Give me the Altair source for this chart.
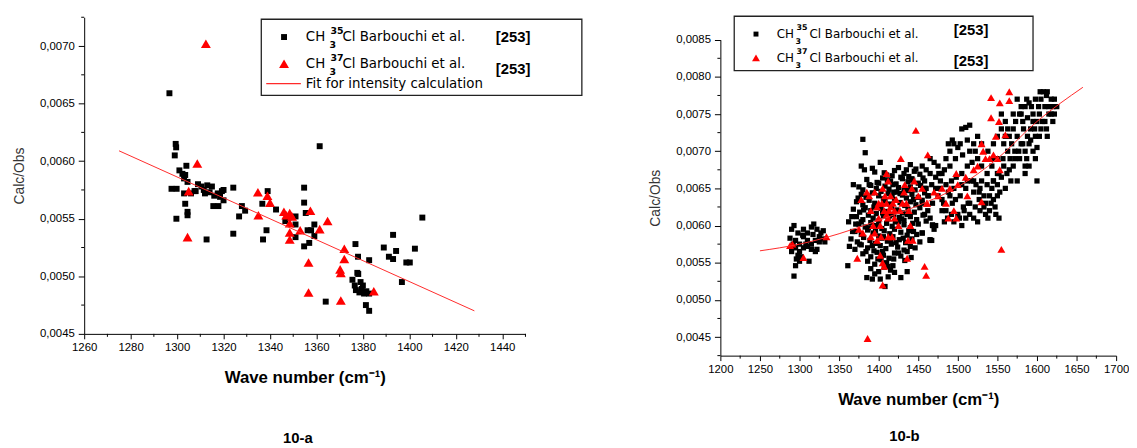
import altair as alt
import pandas as pd

# ---------------- Panel 10-a ----------------
A_CH3_35 = [
    (1296.7, 0.00659), (1299.4, 0.00615), (1299.6, 0.00612), (1299.0, 0.00605), (1297.6, 0.00576),
    (1299.8, 0.00576), (1299.7, 0.00550), (1301.0, 0.00592), (1302.3, 0.00589), (1303.0, 0.00585),
    (1304.0, 0.00596), (1303.5, 0.00588), (1304.5, 0.00582), (1303.0, 0.00572), (1303.5, 0.00563),
    (1304.5, 0.00556), (1304.5, 0.00553), (1306.0, 0.00572), (1307.5, 0.00574), (1309.0, 0.00580),
    (1310.5, 0.00578), (1311.5, 0.00575), (1313.0, 0.00579), (1314.0, 0.00573), (1315.0, 0.00578),
    (1316.0, 0.00570), (1317.5, 0.00572), (1318.5, 0.00569), (1320.0, 0.00575), (1308.0, 0.00574),
    (1312.0, 0.00572), (1312.7, 0.00532), (1315.6, 0.00561), (1317.8, 0.00561), (1319.3, 0.00574),
    (1320.0, 0.00566), (1324.2, 0.00577), (1324.2, 0.00537), (1326.7, 0.00552), (1327.9, 0.00561),
    (1329.3, 0.00557), (1337.0, 0.00532), (1336.7, 0.00563), (1338.5, 0.00540), (1339.0, 0.00574),
    (1342.6, 0.00558), (1346.6, 0.00548), (1348.0, 0.00551), (1351.0, 0.00545), (1351.0, 0.00552),
    (1351.0, 0.00534), (1354.7, 0.00577), (1354.7, 0.00564), (1355.4, 0.00555), (1354.7, 0.00526),
    (1356.2, 0.00540), (1356.9, 0.00529), (1357.7, 0.00540), (1359.1, 0.00545), (1359.1, 0.00535),
    (1361.4, 0.00613), (1364.0, 0.00478), (1376.8, 0.00528), (1377.9, 0.00517), (1377.6, 0.00503),
    (1375.5, 0.00497), (1376.5, 0.00492), (1377.0, 0.00488), (1378.0, 0.00502), (1378.5, 0.00486),
    (1379.5, 0.00489), (1380.0, 0.00492), (1380.5, 0.00485), (1381.5, 0.00487), (1379.0, 0.00495),
    (1381.3, 0.00475), (1382.7, 0.00470), (1382.7, 0.00485), (1382.7, 0.00514), (1389.0, 0.00525),
    (1391.2, 0.00517), (1393.0, 0.00515), (1393.0, 0.00536), (1394.3, 0.00522), (1396.8, 0.00495),
    (1398.7, 0.00512), (1400.2, 0.00512), (1402.4, 0.00524), (1405.6, 0.00551),
]
A_CH3_37 = [
    (1312.4, 0.00702), (1308.7, 0.00598), (1305.0, 0.00574), (1304.5, 0.00534), (1334.8, 0.00573),
    (1335.0, 0.00553), (1338.9, 0.00570), (1340.0, 0.00564), (1346.0, 0.00556), (1347.0, 0.00553),
    (1348.5, 0.00555), (1349.5, 0.00552), (1348.5, 0.00546), (1348.5, 0.00538), (1348.5, 0.00532),
    (1353.0, 0.00540), (1357.4, 0.00557), (1356.6, 0.00512), (1356.6, 0.00486), (1361.4, 0.00541),
    (1364.8, 0.00548), (1372.0, 0.00524), (1372.0, 0.00515), (1370.2, 0.00506), (1370.5, 0.00503),
    (1370.5, 0.00479), (1384.7, 0.00487),
]
A_FIT_X = [1275, 1428]
A_FIT_Y = [0.00609, 0.00470]
A_X_MAJOR = [1260, 1280, 1300, 1320, 1340, 1360, 1380, 1400, 1420, 1440]
A_X_MINOR = [1270, 1290, 1310, 1330, 1350, 1370, 1390, 1410, 1430, 1450]
A_Y_MAJOR = [0.0045, 0.0050, 0.0055, 0.0060, 0.0065, 0.0070]
A_Y_MINOR = [0.00475, 0.00525, 0.00575, 0.00625, 0.00675, 0.00725]

# ---------------- Panel 10-b ----------------
B_CH3_35 = [
    # low-wavenumber group
    (1293, .00532), (1295, .00546), (1300, .00552), (1290, .00595), (1293, .00600), (1298, .00590),
    (1305, .00595), (1310, .00590), (1315, .00598), (1318, .00602), (1322, .00595), (1327, .00590),
    (1330, .00593), (1295, .00580), (1300, .00575), (1305, .00585), (1310, .00580), (1315, .00575),
    (1320, .00580), (1325, .00585), (1290, .00565), (1295, .00570), (1300, .00565), (1305, .00570),
    (1310, .00572), (1315, .00568), (1320, .00565), (1325, .00578), (1329, .00582), (1312, .00552),
    (1322, .00568), (1298, .00560), (1292, .00575), (1302, .00558), (1308, .00575), (1288, .00583),
    (1317, .00588), (1332, .00578), (1296, .00555), (1304, .00587),
    # 1360-1470 group
    (1378, .00680), (1402, .00685), (1425, .00678), (1440, .00682), (1447, .00676),
    (1395, .00672), (1410, .00668), (1420, .00674), (1432, .00670), (1438, .00666), (1445, .00673), (1452, .00669),
    (1385, .00662), (1398, .00658), (1405, .00664), (1415, .00660), (1422, .00656), (1430, .00663),
    (1437, .00659), (1443, .00661), (1450, .00657), (1456, .00664),
    (1375, .00652), (1380, .00648), (1390, .00654), (1397, .00650), (1403, .00646), (1408, .00653),
    (1413, .00649), (1418, .00655), (1425, .00651), (1432, .00647), (1440, .00652), (1446, .00648),
    (1453, .00654), (1460, .00650),
    (1378, .00642), (1384, .00638), (1392, .00644), (1400, .00640), (1406, .00636), (1412, .00643),
    (1417, .00639), (1423, .00645), (1430, .00641), (1435, .00637), (1442, .00642), (1450, .00638), (1458, .00644),
    (1372, .00632), (1380, .00628), (1388, .00634), (1395, .00630), (1402, .00626), (1408, .00633),
    (1414, .00629), (1420, .00635), (1427, .00631), (1433, .00627), (1440, .00632), (1447, .00628), (1455, .00634),
    (1368, .00622), (1376, .00618), (1383, .00624), (1390, .00620), (1397, .00616), (1403, .00623),
    (1410, .00619), (1416, .00625), (1423, .00621), (1430, .00617), (1437, .00622), (1445, .00618),
    (1452, .00624), (1462, .00620),
    (1372, .00612), (1380, .00608), (1387, .00614), (1393, .00610), (1400, .00606), (1406, .00613),
    (1412, .00609), (1419, .00615), (1426, .00611), (1432, .00607), (1440, .00612), (1448, .00608), (1456, .00614),
    (1375, .00602), (1383, .00598), (1390, .00604), (1397, .00600), (1404, .00596), (1410, .00603),
    (1417, .00599), (1425, .00605), (1432, .00601), (1440, .00597), (1450, .00602), (1468, .00600),
    (1370, .00592), (1378, .00588), (1386, .00594), (1393, .00590), (1400, .00586), (1407, .00593),
    (1414, .00589), (1420, .00595), (1428, .00591), (1436, .00587), (1444, .00592), (1455, .00590),
    (1365, .00582), (1373, .00578), (1381, .00584), (1389, .00580), (1396, .00576), (1404, .00583),
    (1411, .00579), (1418, .00585), (1426, .00581), (1434, .00577), (1442, .00582), (1465, .00580),
    (1363, .00572), (1370, .00568), (1378, .00574), (1386, .00570), (1394, .00566), (1402, .00573),
    (1409, .00569), (1416, .00575), (1424, .00571), (1432, .00567), (1440, .00572), (1446, .00570),
    (1380, .00562), (1390, .00558), (1398, .00564), (1406, .00560), (1413, .00556), (1420, .00563),
    (1428, .00559), (1436, .00565),
    (1361, .00546), (1386, .00552), (1395, .00548), (1403, .00554), (1410, .00550), (1418, .00546),
    (1390, .00542), (1400, .00538), (1407, .00544), (1415, .00540), (1436, .00538),
    (1385, .00530), (1392, .00528), (1412, .00531), (1428, .00530), (1408, .00518),
    (1380, .00716), (1383, .00698), (1368, .00655), (1362, .00605), (1455, .00590),
    (1465, .00581), (1468, .00601),
    (1382, .00675), (1392, .00677), (1407, .00671), (1417, .00667), (1428, .00665), (1435, .00675),
    (1442, .00663), (1388, .00655), (1400, .00657), (1411, .00661), (1419, .00645), (1427, .00643),
    (1437, .00647), (1444, .00635), (1374, .00637), (1381, .00621), (1394, .00625), (1405, .00617),
    (1414, .00613), (1421, .00605), (1429, .00609), (1436, .00615), (1443, .00603), (1378, .00605),
    (1387, .00597), (1396, .00593), (1406, .00585), (1415, .00581), (1422, .00577), (1431, .00583),
    (1438, .00593), (1367, .00592), (1376, .00575), (1384, .00565), (1392, .00573), (1399, .00555),
    (1405, .00565), (1412, .00545), (1419, .00555), (1425, .00563), (1433, .00553), (1441, .00557),
    (1395, .00535), (1402, .00528), (1420, .00537), (1366, .00612), (1371, .00602), (1448, .00588),
    (1452, .00578), (1460, .00606), (1458, .00615), (1463, .00640),
    # 1450-1560 band
    (1455, .00680), (1460, .00675), (1465, .00690), (1470, .00685), (1475, .00680), (1480, .00670),
    (1485, .00690), (1490, .00700), (1495, .00710), (1500, .00705), (1505, .00730), (1510, .00732),
    (1515, .00735), (1520, .00710), (1525, .00720), (1488, .00710), (1493, .00715), (1503, .00710),
    (1512, .00715),
    (1458, .00660), (1465, .00670), (1472, .00665), (1478, .00660), (1485, .00655), (1492, .00660),
    (1498, .00665), (1505, .00670), (1512, .00680), (1518, .00685), (1525, .00690), (1530, .00680),
    (1537, .00670), (1543, .00680), (1550, .00690),
    (1462, .00640), (1468, .00630), (1475, .00640), (1482, .00630), (1490, .00640), (1497, .00635),
    (1503, .00640), (1510, .00650), (1517, .00660), (1523, .00655), (1530, .00660), (1537, .00655),
    (1545, .00660), (1552, .00670),
    (1465, .00610), (1472, .00600), (1480, .00620), (1487, .00610), (1495, .00605), (1502, .00610),
    (1508, .00620), (1515, .00630), (1522, .00625), (1528, .00620), (1535, .00615), (1542, .00630),
    (1548, .00615), (1552, .00610), (1500, .00615), (1510, .00610), (1520, .00610),
    (1470, .00595), (1467, .00580), (1540, .00640), (1533, .00640), (1527, .00645), (1513, .00630),
    (1507, .00625), (1493, .00630), (1485, .00620), (1478, .00650), (1472, .00650), (1455, .00630),
    (1458, .00650), (1467, .00655), (1476, .00670), (1483, .00675), (1490, .00680), (1497, .00690),
    (1506, .00695), (1515, .00700), (1522, .00700), (1530, .00710), (1538, .00700), (1545, .00690),
    (1480, .00635), (1488, .00645), (1495, .00650), (1505, .00655), (1512, .00660), (1520, .00645),
    (1527, .00635), (1535, .00630), (1543, .00650), (1550, .00655), (1557, .00690), (1483, .00605),
    (1492, .00615), (1505, .00600), (1515, .00615), (1525, .00605), (1533, .00625), (1547, .00625),
    (1553, .00645),
    # 1540-1625 band
    (1545, .00710), (1550, .00720), (1555, .00730), (1560, .00740), (1565, .00720), (1570, .00730),
    (1575, .00770), (1578, .00750), (1582, .00740), (1585, .00760), (1590, .00765), (1595, .00750),
    (1598, .00770), (1602, .00760), (1605, .00770), (1608, .00780), (1612, .00775), (1615, .00760),
    (1618, .00750), (1622, .00770), (1625, .00760), (1610, .00740), (1600, .00740), (1592, .00730),
    (1588, .00720), (1580, .00710), (1572, .00700), (1566, .00690), (1558, .00680), (1550, .00670),
    (1545, .00660), (1555, .00665), (1562, .00670), (1570, .00680), (1578, .00690), (1585, .00700),
    (1592, .00715), (1598, .00720), (1605, .00730), (1613, .00720), (1620, .00740), (1558, .00710),
    (1563, .00700), (1575, .00720), (1583, .00730), (1595, .00740), (1603, .00750), (1610, .00760),
    (1590, .00710), (1585, .00680), (1595, .00700), (1600, .00705), (1575, .00660), (1585, .00670),
    (1560, .00650), (1565, .00675), (1545, .00635), (1550, .00640), (1540, .00620), (1538, .00610),
    (1528, .00650), (1520, .00660), (1560, .00720), (1580, .00750), (1590, .00680), (1600, .00660),
    (1555, .00750), (1568, .00710), (1573, .00740), (1577, .00700), (1588, .00745), (1593, .00760),
    (1597, .00730), (1607, .00740), (1615, .00750), (1618, .00770), (1622, .00750), (1567, .00660),
    (1572, .00690), (1582, .00710), (1587, .00690), (1598, .00690), (1603, .00720), (1612, .00730),
    (1620, .00760), (1563, .00730), (1570, .00750), (1580, .00760), (1587, .00770), (1604, .00780),
    (1613, .00780),
]
B_CH3_37 = [
    (1288, .00573), (1291, .00575), (1305, .00557), (1334, .00585),
    (1378, .00635), (1375, .00595), (1373, .00556), (1385, .00645), (1388, .00640), (1390, .00620),
    (1393, .00600), (1395, .00590), (1395, .00645), (1398, .00625), (1400, .00610), (1400, .00630),
    (1402, .00600), (1403, .00585), (1405, .00650), (1405, .00550), (1405, .00520), (1407, .00545),
    (1407, .00620), (1408, .00640), (1410, .00630), (1410, .00615), (1410, .00670), (1412, .00585),
    (1412, .00660), (1413, .00620), (1415, .00625), (1415, .00640), (1417, .00585), (1418, .00630),
    (1420, .00610), (1420, .00620), (1422, .00635), (1425, .00600), (1427, .00620), (1428, .00690),
    (1430, .00630), (1432, .00645), (1433, .00655), (1435, .00630), (1436, .00556), (1437, .00580),
    (1438, .00620), (1440, .00600), (1442, .00650), (1443, .00580), (1445, .00660), (1447, .00728),
    (1450, .00640), (1455, .00650), (1458, .00545), (1460, .00533), (1461, .00630), (1462, .00695),
    (1386, .00448), (1402, .00560), (1390, .00585), (1380, .00590), (1398, .00580), (1404, .00630),
    (1412, .00610),
    (1542, .00772), (1553, .00765), (1565, .00780), (1565, .00768), (1542, .00745), (1552, .00740),
    (1555, .00568), (1548, .00720), (1560, .00722), (1530, .00710), (1532, .00700), (1535, .00690),
    (1540, .00690), (1545, .00695), (1550, .00690), (1525, .00680), (1520, .00675), (1510, .00665),
    (1498, .00670), (1500, .00655), (1490, .00650), (1485, .00630), (1488, .00610), (1495, .00620),
    (1498, .00610), (1512, .00640), (1530, .00632), (1475, .00640), (1480, .00650), (1553, .00675),
    (1470, .00645), (1461, .00630),
]
B_FIT_X = [1250, 1300, 1350, 1400, 1450, 1500, 1550, 1600, 1658]
B_FIT_Y = [0.00566, 0.00575, 0.00589, 0.00607, 0.00627, 0.00652, 0.00690, 0.00740, 0.00786]
B_X_MAJOR = [1200, 1250, 1300, 1350, 1400, 1450, 1500, 1550, 1600, 1650, 1700]
B_X_MINOR = [1225, 1275, 1325, 1375, 1425, 1475, 1525, 1575, 1625, 1675]
B_Y_MAJOR = [0.0045, 0.0050, 0.0055, 0.0060, 0.0065, 0.0070, 0.0075, 0.0080, 0.0085]
B_Y_MINOR = [0.00425, 0.00475, 0.00525, 0.00575, 0.00625, 0.00675, 0.00725, 0.00775, 0.00825]

FIT_LABEL = "Fit for intensity calculation"
X_TITLE = "Wave number (cm\u207b\u00b9)"
Y_TITLE = "Calc/Obs"

FONT = "Liberation Sans"
LFONT = "DejaVu Sans"


def frame(points):
    return pd.DataFrame(points, columns=["wn", "ratio"])


def one():
    return pd.DataFrame({"k": [0]})


def txt(s, x, y, size=12, weight="normal", align="left", font=LFONT):
    return alt.Chart(one()).mark_text(
        text=s, align=align, baseline="middle", font=font, fontSize=size,
        fontWeight=weight, color="black"
    ).encode(x=alt.value(x), y=alt.value(y))


def panel(p35, p37, fx, fy, xdom, ydom, xmaj, xmin, ymaj, ymin, W, H, yrange,
          sq, tri, legend, caption, cap_x):
    xaxis = alt.Axis(
        values=xmaj, tickCount=40, grid=False, title=X_TITLE, format="d",
        tickSize=5, labelFlush=False, labelOverlap=False, labelPadding=3,
        labelFont=FONT, labelFontSize=11.5, labelColor="black",
        titleFont=FONT, titleFontSize=17, titleFontWeight="bold", titleColor="black",
        titlePadding=17, domainColor="black", tickColor="black",
    )
    yaxis = alt.Axis(
        values=ymaj, tickCount=40, grid=False, title=Y_TITLE, format=".4f",
        labelExpr="replace(datum.label, '.', ',')",
        tickSize=6, labelOverlap=False, labelPadding=4, labelFlush=False,
        labelFont=FONT, labelFontSize=11.5, labelColor="black",
        titleFont=FONT, titleFontSize=14, titleFontWeight="normal", titleColor="#333333",
        titlePadding=13, domainColor="black", tickColor="black",
    )
    xs = alt.Scale(domain=list(xdom), nice=False, zero=False)
    if yrange is None:
        ys = alt.Scale(domain=list(ydom), nice=False, zero=False)
    else:
        ys = alt.Scale(domain=list(ydom), nice=False, zero=False, range=list(yrange))

    base35 = alt.Chart(frame(p35)).mark_point(
        shape="square", filled=True, size=sq, color="black", opacity=1
    ).encode(
        x=alt.X("wn:Q", scale=xs, axis=xaxis),
        y=alt.Y("ratio:Q", scale=ys, axis=yaxis),
    )
    base37 = alt.Chart(frame(p37)).mark_point(
        shape="triangle-up", filled=True, size=tri, color="#ff0000", opacity=1
    ).encode(x=alt.X("wn:Q", scale=xs), y=alt.Y("ratio:Q", scale=ys))
    fit = alt.Chart(pd.DataFrame({"wn": fx, "ratio": fy})).mark_line(
        color="#ff2a2a", strokeWidth=1, interpolate="monotone"
    ).encode(x=alt.X("wn:Q", scale=xs), y=alt.Y("ratio:Q", scale=ys))
    yminor = alt.Chart(pd.DataFrame({"ratio": ymin})).mark_rule(color="black", strokeWidth=1).encode(
        y=alt.Y("ratio:Q", scale=ys), x=alt.value(-3), x2=alt.value(0))
    xminor = alt.Chart(pd.DataFrame({"wn": xmin})).mark_rule(color="black", strokeWidth=1).encode(
        x=alt.X("wn:Q", scale=xs), y=alt.value(H), y2=alt.value(H + 3))
    cap = txt(caption, cap_x, H + 105 if yrange is None else yrange[0] + 81, size=15,
              weight="bold", align="center", font=FONT)
    return alt.layer(base35, base37, fit, yminor, xminor, *legend, cap).properties(width=W, height=H)


def legend_rows(box, rows, marker_x, fs, ref_x, fit_row=None):
    layers = [
        alt.Chart(one()).mark_rect(fill="white", stroke="#222222", strokeWidth=1.3).encode(
            x=alt.value(box[0]), x2=alt.value(box[1]), y=alt.value(box[2]), y2=alt.value(box[3]))
    ]
    for r in rows:
        if r["kind"] == "sq":
            layers.append(alt.Chart(one()).mark_point(shape="square", filled=True, size=r["size"],
                                                      color="black", opacity=1)
                          .encode(x=alt.value(marker_x), y=alt.value(r["y"])))
        else:
            layers.append(alt.Chart(one()).mark_point(shape="triangle-up", filled=True, size=r["size"],
                                                      color="#ff0000", opacity=1)
                          .encode(x=alt.value(marker_x), y=alt.value(r["y"])))
        layers.append(txt("CH", r["tx"], r["y"], size=fs))
        layers.append(txt("3", r["sub_x"], r["y"] + 8, size=fs - 4, weight="bold"))
        layers.append(txt(r["iso"], r["sub_x"] + 1, r["y"] - 6, size=fs - 4, weight="bold"))
        layers.append(txt("Cl Barbouchi et al.", r["rest_x"], r["y"], size=fs))
        layers.append(txt("[253]", ref_x, r["ref_y"], size=15, weight="bold", font=FONT))
    if fit_row is not None:
        layers.append(alt.Chart(one()).mark_rule(color="#ff2a2a", strokeWidth=1.2).encode(
            x=alt.value(fit_row["x1"]), x2=alt.value(fit_row["x2"]), y=alt.value(fit_row["y"])))
        layers.append(txt(FIT_LABEL, fit_row["tx"], fit_row["y"], size=fs))
    return layers


legA = legend_rows(
    box=(179, 503, 2, 79),
    rows=[
        {"kind": "sq", "size": 36, "y": 20, "tx": 224, "sub_x": 248, "iso": "35", "rest_x": 261, "ref_y": 20},
        {"kind": "tri", "size": 100, "y": 47, "tx": 224, "sub_x": 248, "iso": "37", "rest_x": 261, "ref_y": 52},
    ],
    marker_x=202, fs=13.5, ref_x=416,
    fit_row={"x1": 184, "x2": 219, "y": 67, "tx": 224},
)
legB = legend_rows(
    box=(14, 316, -1, 54),
    rows=[
        {"kind": "sq", "size": 25, "y": 17, "tx": 57, "sub_x": 76, "iso": "35", "rest_x": 90, "ref_y": 13},
        {"kind": "tri", "size": 64, "y": 41, "tx": 57, "sub_x": 76, "iso": "37", "rest_x": 90, "ref_y": 44},
    ],
    marker_x=36, fs=12, ref_x=236,
)

left = panel(A_CH3_35, A_CH3_37, A_FIT_X, A_FIT_Y, (1260, 1450), (0.0045, 0.00725),
             A_X_MAJOR, A_X_MINOR, A_Y_MAJOR, A_Y_MINOR, 446, 320, None,
             36, 100, legA, "10-a", 216)
right = panel(B_CH3_35, B_CH3_37, B_FIT_X, B_FIT_Y, (1200, 1700), (0.00425, 0.0085),
              B_X_MAJOR, B_X_MINOR, B_Y_MAJOR, B_Y_MINOR, 400, 342, (342, 22.7),
              28, 64, legB, "10-b", 186)

chart = alt.hconcat(left, right, spacing=66).properties(
    padding={"left": 4, "top": 5, "right": 0, "bottom": 0}
).configure_view(stroke=None)

chart.save("out.html", embed_options={"renderer": "svg", "actions": False})
